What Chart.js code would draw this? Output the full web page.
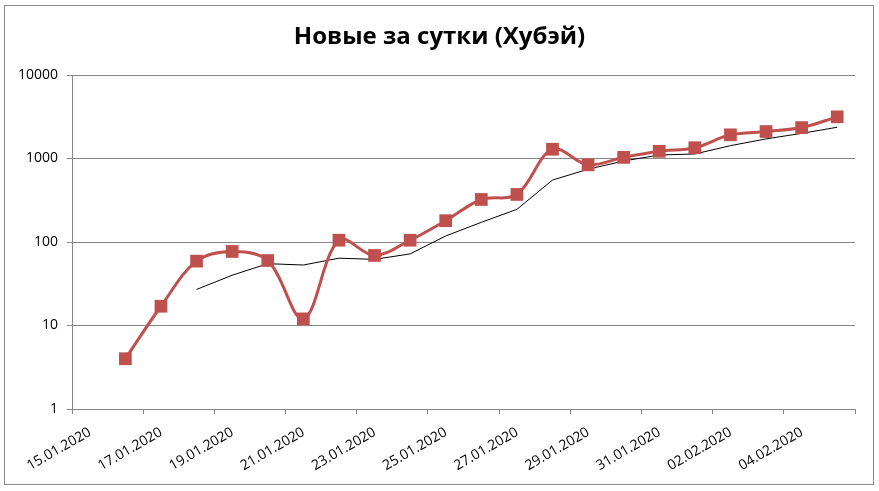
<!DOCTYPE html>
<html lang="ru">
<head>
<meta charset="UTF-8">
<title>Новые за сутки (Хубэй)</title>
<script src="https://cdn.jsdelivr.net/npm/chart.js"></script>
<style>
    body { margin: 0; background: #ffffff; }
    #wrap { width: 879px; height: 491px; }
</style>
</head>
<body>
<div id="wrap"><canvas id="chart" width="879" height="491"></canvas></div>
<script>
const chartTitle = "Новые за сутки (Хубэй)";
// dates of the points (first axis day is 15.01.2020)
const dates = ["16.01.2020", "17.01.2020", "18.01.2020", "19.01.2020", "20.01.2020", "21.01.2020",
    "22.01.2020", "23.01.2020", "24.01.2020", "25.01.2020", "26.01.2020", "27.01.2020",
    "28.01.2020", "29.01.2020", "30.01.2020", "31.01.2020", "01.02.2020", "02.02.2020",
    "03.02.2020", "04.02.2020", "05.02.2020"];
// new cases per day
const newCases = [4, 17, 59, 77, 60, 12, 105, 69, 105, 180, 323, 371,
    1291, 840, 1032, 1220, 1347, 1921, 2103, 2345, 3156];
// thin black line (starts at 18.01)
const trend = [null, null, 27, 40, 55, 53, 64, 62, 72, 118, 172, 246,
    552, 744, 934, 1101, 1133, 1425, 1717, 2000, 2366];
// x axis tick labels, every 2 days
const xTickLabels = ["15.01.2020", "17.01.2020", "19.01.2020", "21.01.2020", "23.01.2020",
    "25.01.2020", "27.01.2020", "29.01.2020", "31.01.2020", "02.02.2020", "04.02.2020", ""];
const yTicks = [1, 10, 100, 1000, 10000];

// day offset from 15.01.2020, point sits in the middle of its day
function dayPos(s) {
    const p = s.split(".");
    const d = Date.UTC(+p[2], +p[1] - 1, +p[0]);
    return (d - Date.UTC(2020, 0, 15)) / 86400000 + 0.5;
}

const redPoints = dates.map((d, i) => ({ x: dayPos(d), y: newCases[i] }));
const blackPoints = dates.map((d, i) => ({ x: dayPos(d), y: trend[i] })).filter(p => p.y !== null);

const gray = "#878787";
const font = "'Open Sans', sans-serif";

// white background, outer frame and the title centred on the whole picture
const frame = {
    id: "frame",
    beforeDraw(chart) {
        const ctx = chart.ctx;
        ctx.save();
        ctx.fillStyle = "#ffffff";
        ctx.fillRect(0, 0, chart.width, chart.height);
        ctx.strokeStyle = "#8a8a8a";
        ctx.lineWidth = 1;
        ctx.strokeRect(4.5, 5.5, 869, 479);
        ctx.fillStyle = "#000000";
        ctx.font = "bold 24px " + font;
        ctx.textAlign = "center";
        ctx.textBaseline = "middle";
        ctx.fillText(chartTitle, chart.width / 2, 37);
        ctx.restore();
    }
};

new Chart(document.getElementById("chart"), {
    type: "line",
    data: {
        datasets: [{
            data: redPoints,
            borderColor: "#C0504D",
            backgroundColor: "#C0504D",
            borderWidth: 3,
            pointStyle: "rect",
            pointRadius: 9,
            pointBorderWidth: 0,
            tension: 0.35,
            order: 1
        }, {
            data: blackPoints,
            borderColor: "#000000",
            borderWidth: 1,
            pointRadius: 0,
            tension: 0,
            order: 2
        }]
    },
    options: {
        responsive: false,
        animation: false,
        layout: { padding: { left: 0, right: 24, top: 75, bottom: 0 } },
        plugins: {
            legend: { display: false },
            tooltip: { enabled: false },
            title: { display: false }
        },
        scales: {
            x: {
                type: "linear",
                min: 0,
                max: 22,
                afterBuildTicks(scale) {
                    scale.ticks = xTickLabels.map((t, i) => ({ value: i * 2 }));
                },
                afterFit(scale) { scale.height = 82; },
                grid: { drawOnChartArea: false, drawTicks: true, tickLength: 5, color: gray },
                border: { display: true, color: gray },
                ticks: {
                    autoSkip: false,
                    minRotation: 30,
                    maxRotation: 30,
                    labelOffset: 18,
                    padding: 10,
                    color: "#000000",
                    font: { family: font, size: 14 },
                    callback: (v) => xTickLabels[Math.round(v / 2)]
                }
            },
            y: {
                type: "logarithmic",
                min: 1,
                max: 10000,
                afterBuildTicks(scale) {
                    scale.ticks = yTicks.map(v => ({ value: v }));
                },
                afterFit(scale) { scale.width = 72; },
                grid: { color: gray, tickLength: 5 },
                border: { display: true, color: gray },
                ticks: {
                    color: "#000000",
                    padding: 9,
                    font: { family: font, size: 14 },
                    callback: (v) => String(v)
                }
            }
        }
    },
    plugins: [frame]
});
</script>
</body>
</html>
